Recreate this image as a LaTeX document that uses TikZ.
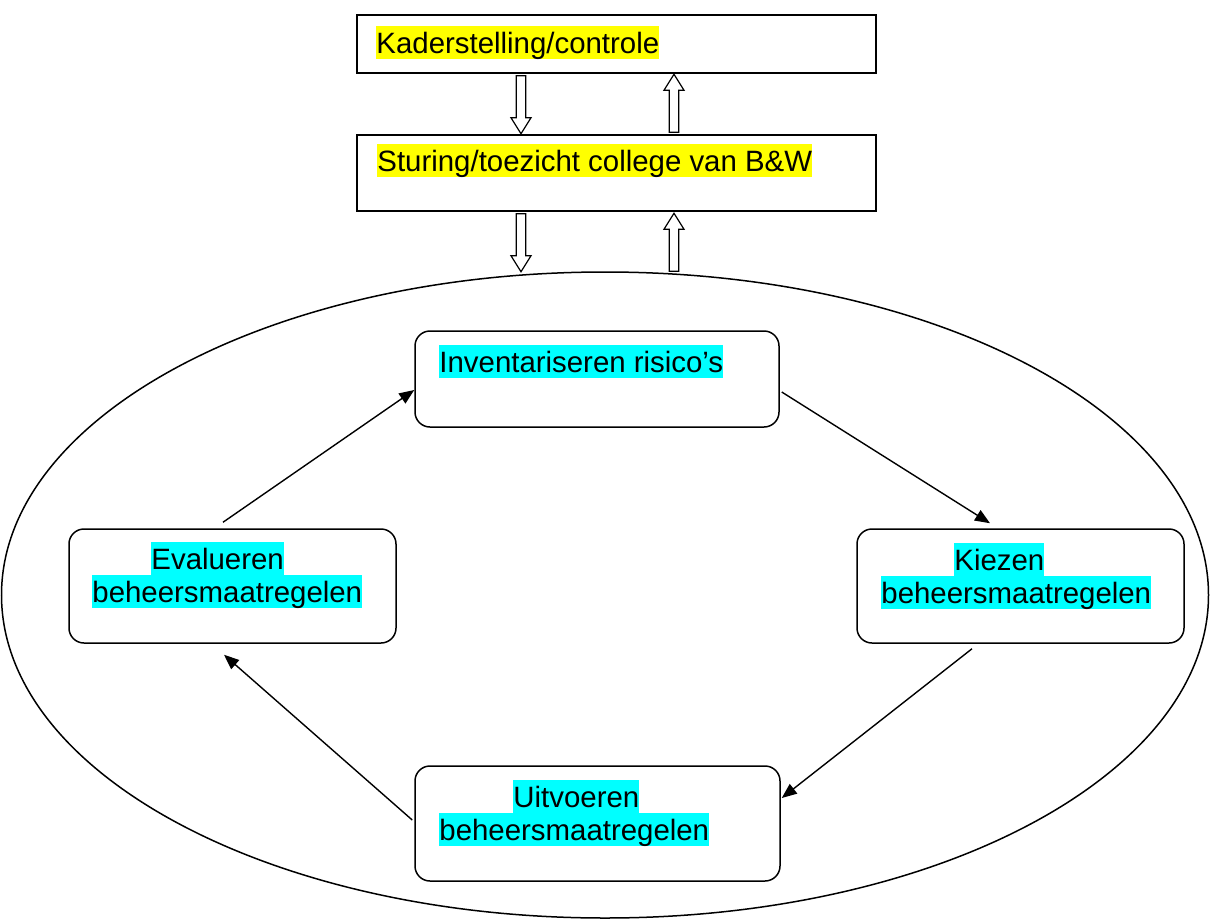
\documentclass[tikz,border=0pt]{standalone}
\usepackage{fontspec}
\setmainfont{Liberation Sans}
\usepackage{xcolor}
\usetikzlibrary{positioning,shapes.geometric,arrows.meta}

\definecolor{markyellow}{RGB}{255,255,0}
\definecolor{markcyan}{RGB}{0,255,255}
\newcommand{\hly}[1]{{\setlength{\fboxsep}{0pt}\colorbox{markyellow}{\rule[-6.4pt]{0pt}{33pt}#1}}}
\newcommand{\hlc}[1]{{\setlength{\fboxsep}{0pt}\colorbox{markcyan}{\rule[-6.4pt]{0pt}{33pt}#1}}}

\begin{document}
\begin{tikzpicture}[x=1pt, y=-1pt,
    topbox/.style={rectangle, draw, line width=1.5pt, minimum width=519pt},
    stage/.style={rectangle, rounded corners=15pt, draw, line width=1.5pt},
    txt/.style={anchor=north west, inner sep=0pt, align=left, font=\fontsize{29.4}{33}\selectfont},
    arrow/.style={-{Triangle[length=15pt,width=12pt]}, line width=1.4pt},
    blkdown/.pic={\draw[line width=1.2pt, fill=white] (-4.75,0) -- (4.75,0) -- (4.75,42) -- (10,42) -- (0,58) -- (-10,42) -- (-4.75,42) -- cycle;}]
    \useasboundingbox (0,0) rectangle (1211,919);

    % Outer cycle
    \node[draw, ellipse, line width=1.5pt, minimum width=1207pt, minimum height=646pt, inner sep=0pt] (loop) at (605,595) {};

    % Top boxes
    \node[topbox, minimum height=58pt] (kader) at (616.5,44) {};
    \node[topbox, minimum height=76pt] (sturing) at (616.5,173) {};
    \node[txt] (kadertxt) at ([xshift=20pt,yshift=-12pt]kader.north west) {\hly{Kaderstelling/controle}};
    \node[txt] (sturingtxt) at ([xshift=21pt,yshift=-10pt]sturing.north west) {\hly{Sturing/toezicht college van B\&W}};

    % Block arrows between the levels
    \pic at ([xshift=-95.5pt,yshift=-2pt]kader.south) {blkdown};
    \pic[rotate=180] at ([xshift=57.5pt,yshift=2pt]sturing.north) {blkdown};
    \pic at ([xshift=-95.5pt,yshift=-2pt]sturing.south) {blkdown};
    \pic[rotate=180] at ([xshift=69pt]loop.north) {blkdown};

    % Cycle steps
    \node[stage, minimum width=364pt, minimum height=96pt] (inv) at (597,379) {};
    \node[stage, minimum width=327pt, minimum height=114pt] (eval) at (232.5,586) {};
    \node[stage, minimum width=327pt, minimum height=114pt] (kies) at (1020.5,586) {};
    \node[stage, minimum width=365pt, minimum height=115pt] (uitv) at (597.5,823.5) {};

    \node[txt] (invtxt) at ([xshift=25pt,yshift=-15pt]inv.north west) {\hlc{Inventariseren risico’s}};
    \node[txt] (evaltxt) at ([xshift=24pt,yshift=-14pt]eval.north west) {\hspace*{59pt}\hlc{Evalueren}\\\hlc{beheersmaatregelen}};
    \node[txt] (kiestxt) at ([xshift=25pt,yshift=-15pt]kies.north west) {\hspace*{73pt}\hlc{Kiezen}\\\hlc{beheersmaatregelen}};
    \node[txt] (uitvtxt) at ([xshift=25pt,yshift=-15pt]uitv.north west) {\hspace*{74pt}\hlc{Uitvoeren}\\\hlc{beheersmaatregelen}};

    % Connect the cycle
    \draw[arrow] ([xshift=-9.5pt,yshift=6pt]eval.north) -- ([yshift=-11pt]inv.west);
    \draw[arrow] ([xshift=2pt,yshift=-13pt]inv.east) -- ([xshift=-30.5pt,yshift=5pt]kies.north);
    \draw[arrow] ([xshift=-48.5pt,yshift=-5pt]kies.south) -- ([xshift=1pt,yshift=25.5pt]uitv.east);
    \draw[arrow] ([xshift=-2pt,yshift=3.5pt]uitv.west) -- ([xshift=-8.5pt,yshift=-11pt]eval.south);
\end{tikzpicture}
\end{document}
